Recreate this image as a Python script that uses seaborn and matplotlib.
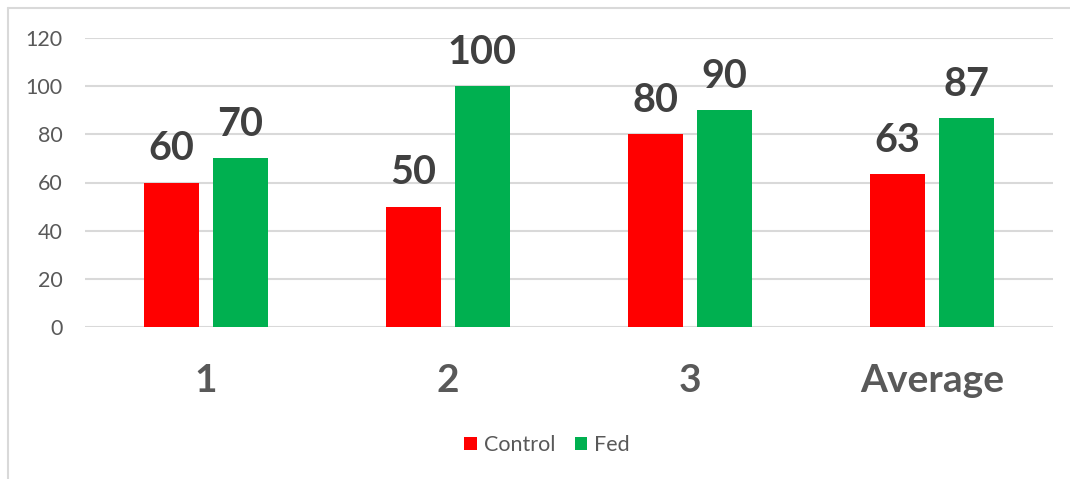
import pandas as pd
import matplotlib.pyplot as plt
import seaborn as sns
from matplotlib.lines import Line2D

# data
groups = ["1", "2", "3", "Average"]
control = [60, 50, 80, 63.33]
fed = [70, 100, 90, 86.67]
series_names = ["Control", "Fed"]
y_ticks = [0, 20, 40, 60, 80, 100, 120]

df = pd.DataFrame({
    "group": groups * 2,
    "value": control + fed,
    "series": [series_names[0]] * len(groups) + [series_names[1]] * len(groups),
})

sns.set_theme(style="white")
plt.rcParams["font.family"] = ["Lato", "DejaVu Sans"]

grey_text = "#595959"
grid_col = "#d9d9d9"

fig = plt.figure(figsize=(10.7, 4.79), dpi=100, facecolor="white")
ax = fig.add_axes([85 / 1070, 1 - 327 / 479, (1053 - 85) / 1070, (327 - 38) / 479])

sns.barplot(
    data=df, x="group", y="value", hue="series",
    palette={"Control": "#ff0000", "Fed": "#00b050"},
    width=0.566, gap=0.2, saturation=1, linewidth=0, ax=ax,
)

ax.set_xlim(-0.5, len(groups) - 0.5)
ax.set_ylim(0, 120)
ax.set_yticks(y_ticks)
ax.yaxis.grid(True, color=grid_col, linewidth=1.5)
ax.set_axisbelow(True)
for s in ax.spines.values():
    s.set_visible(False)
ax.set_xlabel("")
ax.set_ylabel("")
ax.tick_params(axis="y", length=0, pad=16, labelsize=15.5, labelcolor=grey_text)
ax.tick_params(axis="x", length=0, pad=26, labelsize=28, labelcolor=grey_text)
for lbl in ax.get_xticklabels():
    lbl.set_fontweight("bold")

for cont in ax.containers:
    ax.bar_label(cont, fmt="%.0f", padding=11, fontsize=28.5, fontweight="bold", color="#404040")

handles, labels = ax.get_legend_handles_labels()
ax.get_legend().remove()
fig.legend(
    handles, labels, loc="center", bbox_to_anchor=(547 / 1070, 1 - 445 / 479),
    ncol=2, frameon=False, fontsize=15.5, labelcolor=grey_text,
    handlelength=0.6, handleheight=0.6, handletextpad=0.3, columnspacing=0.9,
)

# outer chart frame (left and top edges visible)
fig.add_artist(Line2D([8 / 1070, 8 / 1070], [0, 1 - 8 / 479], transform=fig.transFigure,
                      color=grid_col, linewidth=1.5))
fig.add_artist(Line2D([8 / 1070, 1], [1 - 8 / 479, 1 - 8 / 479], transform=fig.transFigure,
                      color=grid_col, linewidth=1.5))

fig.savefig("out.png", dpi=100, facecolor="white")
